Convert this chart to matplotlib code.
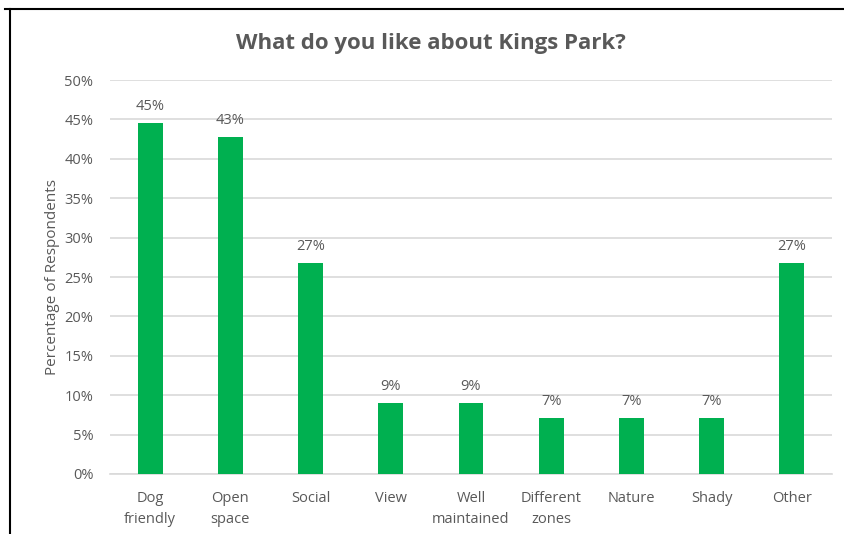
import matplotlib.pyplot as plt
from matplotlib.lines import Line2D
from matplotlib.ticker import PercentFormatter

# 数据
categories = ["Dog\nfriendly", "Open\nspace", "Social", "View", "Well\nmaintained",
              "Different\nzones", "Nature", "Shady", "Other"]
values = [0.446, 0.428, 0.268, 0.09, 0.09, 0.071, 0.071, 0.071, 0.268]
value_labels = ["45%", "43%", "27%", "9%", "9%", "7%", "7%", "7%", "27%"]

text_color = "#595959"
bar_color = "#00b050"
grid_color = "#d9d9d9"

plt.rcParams['font.family'] = ['Open Sans', 'DejaVu Sans']

fig = plt.figure(figsize=(8.44, 5.34), dpi=100)
ax = fig.add_axes([0.1303, 0.1124, 0.8555, 0.7376])

x = range(len(categories))
ax.bar(x, values, width=0.31, color=bar_color, zorder=3)

for xi, v, lab in zip(x, values, value_labels):
    ax.text(xi, v + 0.011, lab, ha="center", va="bottom", fontsize=10.5, color=text_color)

ax.set_xlim(-0.5, len(categories) - 0.5)
ax.set_ylim(0, 0.5)
ax.set_yticks([i * 0.05 for i in range(11)])
ax.yaxis.set_major_formatter(PercentFormatter(1.0, decimals=0))
ax.set_xticks(list(x))
ax.set_xticklabels(categories, fontsize=10.5, color=text_color, linespacing=1.6)
ax.tick_params(axis="y", labelsize=10.5, labelcolor=text_color, length=0, pad=12)
ax.tick_params(axis="x", length=0, pad=12)

ax.grid(axis="y", color=grid_color, linewidth=1.2, zorder=0)
for s in ["top", "right", "left"]:
    ax.spines[s].set_visible(False)
ax.spines["bottom"].set_color(grid_color)
ax.spines["bottom"].set_linewidth(1.2)

ax.set_ylabel("Percentage of Respondents", fontsize=11, color=text_color, labelpad=3)
fig.text(0.51, 0.919, "What do you like about Kings Park?", ha="center", va="center",
         fontsize=16, fontweight="bold", color=text_color)

# 截图边框
fig.add_artist(Line2D([0.006, 1.0], [0.983, 0.983], color="black", linewidth=1.5,
                      transform=fig.transFigure))
fig.add_artist(Line2D([0.012, 0.012], [0.0, 0.983], color="black", linewidth=1.5,
                      transform=fig.transFigure))

fig.savefig("out.png", dpi=100, facecolor="white")
